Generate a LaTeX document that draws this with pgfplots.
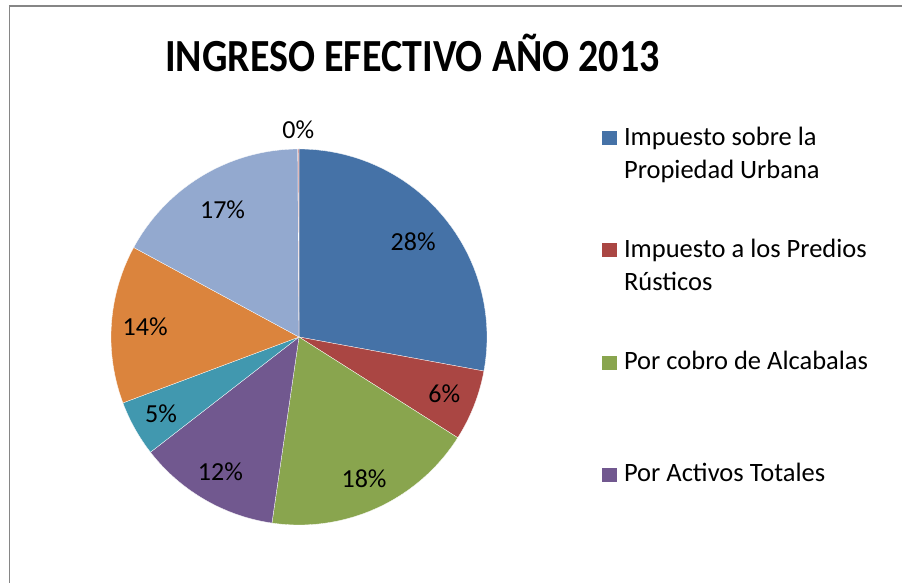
\documentclass[border=0pt]{standalone}
\usepackage{pgfplots}
\pgfplotsset{compat=1.18}
\usepackage{pgfplotstable}
\usepackage{fontspec}
\setmainfont{Carlito}
\definecolor{c1}{HTML}{4572A7}
\definecolor{c2}{HTML}{AA4643}
\definecolor{c3}{HTML}{89A54E}
\definecolor{c4}{HTML}{71588F}
\definecolor{c5}{HTML}{4198AF}
\definecolor{c6}{HTML}{DB843D}
\definecolor{c7}{HTML}{93A9CF}
\definecolor{c8}{HTML}{D19392}
\definecolor{framegray}{HTML}{868686}
% pct = share in percent, lr = label radius (fraction of pie radius), clr = colour
\pgfplotstableread{
pct  lr   clr
27.9 0.79 c1
6.1  0.83 c2
18.3 0.83 c3
12.2 0.83 c4
4.8  0.84 c5
13.6 0.82 c6
17.0 0.79 c7
0.1  1.10 c8
}\piedata
\tikzset{pielabel/.style={font=\fontsize{26}{30}\selectfont, inner sep=0pt, anchor=center}}
\newcommand\legitem[1]{\parbox[t]{250pt}{\strut #1}}
\begin{document}
\begin{tikzpicture}[x=1pt,y=1pt]
\path[use as bounding box] (0,0) rectangle (902,583);
\fill[white] (0,0) rectangle (902,583);
\node[anchor=base, inner sep=0pt, font=\fontsize{40}{44}\selectfont\bfseries] at (412.5,511.3) {\scalebox{1}[1.15]{INGRESO EFECTIVO AÑO 2013}};
\begin{axis}[
  at={(299pt,246pt)}, anchor=origin,
  x=188pt, y=188pt,
  xmin=-1, xmax=1, ymin=-1, ymax=1,
  hide axis, clip=false,
  legend style={at={(axis cs:1.612,1.153)}, anchor=north west, draw=none, fill=none,
    inner sep=0pt, outer sep=0pt, font=\fontsize{26.5}{33}\selectfont,
    cells={anchor=base west, inner sep=0pt, text height=23.1pt, text depth=0pt},
    column sep=5pt, row sep=83.5pt},
  legend image code/.code={\fill[#1, draw=none] (0pt,0pt) rectangle (15pt,14pt);},
  legend entries={
    {\legitem{Impuesto sobre la\\Propiedad Urbana}},
    {\legitem{Impuesto a los Predios\\Rústicos}},
    {\legitem{Por cobro de Alcabalas}},
    {\legitem{Por Activos Totales}}
  },
]
\pgfplotstablegetrowsof{\piedata}
\pgfmathtruncatemacro\nlast{\pgfplotsretval-1}
\def\cum{0}
\pgfplotsforeachungrouped \i in {0,...,\nlast}{
  \pgfplotstablegetelem{\i}{pct}\of\piedata \let\slicepct\pgfplotsretval
  \pgfplotstablegetelem{\i}{lr}\of\piedata \let\slicelr\pgfplotsretval
  \pgfplotstablegetelem{\i}{clr}\of\piedata \let\slicecol\pgfplotsretval
  \pgfmathsetmacro\angA{\cum*3.6}
  \pgfmathsetmacro\angB{(\cum+\slicepct)*3.6}
  \pgfmathsetmacro\angM{(\cum+\slicepct/2)*3.6}
  \pgfmathsetmacro\lx{\slicelr*sin(\angM)}
  \pgfmathsetmacro\ly{\slicelr*cos(\angM)}
  \pgfmathtruncatemacro\lab{round(\slicepct)}
  \edef\temp{\noexpand\addplot[fill=\slicecol, draw=white, line width=0.3pt,
      domain=\angA:\angB, samples=80] ({sin(x)},{cos(x)}) -- (0,0) -- cycle;}
  \temp
  \edef\temp{\noexpand\node[pielabel] at (axis cs:\lx,\ly) {\lab\noexpand\%};}
  \temp
  \pgfmathsetmacro\cum{\cum+\slicepct}
}
\end{axis}
\fill[white] (878,300) rectangle (902,576.3);
\draw[framegray, line width=1.2pt] (9.5,0) -- (9.5,577.6);
\draw[framegray, line width=1.2pt] (8.9,577) -- (902,577);
\end{tikzpicture}
\end{document}
